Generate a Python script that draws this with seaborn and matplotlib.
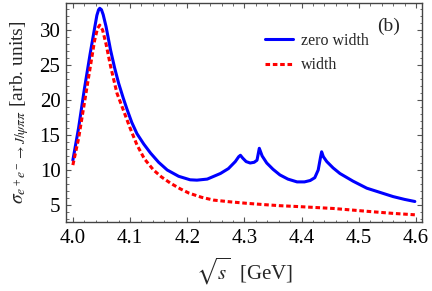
import numpy as np
import pandas as pd
import seaborn as sns
from matplotlib import pyplot as plt
from matplotlib.ticker import MultipleLocator

# zero width curve
x_zero = [4.000, 4.010, 4.020, 4.030, 4.037, 4.042, 4.045, 4.047, 4.050, 4.053,
          4.058, 4.066, 4.073, 4.080, 4.088, 4.095, 4.103, 4.112, 4.124, 4.136,
          4.150, 4.165, 4.185, 4.205, 4.217, 4.235, 4.258, 4.272, 4.284, 4.290,
          4.293, 4.297, 4.303, 4.310, 4.317, 4.322, 4.326, 4.331, 4.339, 4.350,
          4.362, 4.376, 4.392, 4.405, 4.415, 4.423, 4.429, 4.433, 4.435, 4.438,
          4.444, 4.455, 4.467, 4.490, 4.514, 4.537, 4.560, 4.580, 4.598]
y_zero = [11.4, 16.0, 21.5, 26.5, 29.8, 32.1, 32.9, 33.1, 32.9, 32.2,
          30.5, 27.1, 24.6, 22.4, 20.3, 18.6, 16.8, 15.2, 13.7, 12.4,
          11.1, 10.0, 9.1, 8.6, 8.55, 8.7, 9.5, 10.2, 11.2, 11.9,
          12.1, 11.7, 11.2, 11.0, 11.1, 11.4, 13.1, 12.0, 11.0, 10.1,
          9.3, 8.7, 8.3, 8.3, 8.5, 8.9, 10.0, 11.8, 12.6, 11.9,
          11.2, 10.3, 9.5, 8.4, 7.4, 6.8, 6.2, 5.8, 5.5]

# width curve
x_width = [4.000, 4.010, 4.020, 4.030, 4.038, 4.043, 4.047, 4.052, 4.058, 4.066,
           4.077, 4.089, 4.100, 4.112, 4.125, 4.141, 4.155, 4.171, 4.188, 4.203,
           4.225, 4.246, 4.275, 4.304, 4.335, 4.362, 4.400, 4.456, 4.514, 4.560,
           4.598]
y_width = [10.7, 14.5, 19.5, 24.5, 28.5, 30.2, 30.7, 30.0, 28.0, 24.8,
           21.0, 18.4, 16.0, 13.6, 11.6, 10.0, 9.0, 8.1, 7.3, 6.7,
           6.1, 5.7, 5.45, 5.24, 5.05, 4.9, 4.75, 4.5, 4.1, 3.8,
           3.6]

sns.set_style("ticks")
plt.rcParams['font.family'] = ['Liberation Serif', 'DejaVu Serif']
plt.rcParams['mathtext.fontset'] = 'stix'

df_zero = pd.DataFrame({'x': x_zero, 'y': y_zero})
df_width = pd.DataFrame({'x': x_width, 'y': y_width})

fig = plt.figure(figsize=(4.32, 2.91), dpi=100)
ax = fig.add_axes([66 / 432, 1 - 222 / 291, 356 / 432, 219 / 291])

sns.lineplot(data=df_zero, x='x', y='y', ax=ax, color='#0000ff', lw=2.2,
             label='zero width', sort=False)
sns.lineplot(data=df_width, x='x', y='y', ax=ax, color='#ff0000', lw=2.2,
             label='width', sort=False)
ax.lines[1].set_dashes((1.5, 0.9))

ax.set_xlim(3.988, 4.6105)
ax.set_ylim(2.57, 33.86)
ax.xaxis.set_major_locator(MultipleLocator(0.1))
ax.xaxis.set_minor_locator(MultipleLocator(0.02))
ax.yaxis.set_major_locator(MultipleLocator(5))
ax.yaxis.set_minor_locator(MultipleLocator(1))
ax.xaxis.set_major_formatter(plt.FuncFormatter(lambda v, p: f"{v:.1f}"))

for s in ax.spines.values():
    s.set_color('#444444')
    s.set_linewidth(1.0)
ax.tick_params(which='both', direction='in', top=True, right=True, color='#555555',
               labelsize=15, labelcolor='black')
ax.tick_params(which='major', length=3.5, width=0.8)
ax.tick_params(which='minor', length=1.8, width=0.6)
ax.tick_params(axis='x', pad=5)
ax.tick_params(axis='y', pad=4)

ax.set_xlabel(r'$\sqrt{s}$  [GeV]', fontsize=15, labelpad=6)
ax.set_ylabel(r'$\sigma_{e^+e^-\to J/\psi\pi\pi}$ [arb. units]', fontsize=14, labelpad=6)

ax.text(0.905, 0.895, '(b)', transform=ax.transAxes, ha='center', va='center', fontsize=14)

leg = ax.legend(loc='upper left', bbox_to_anchor=(0.52, 0.93), frameon=False,
                fontsize=11.5, handlelength=1.7, handletextpad=0.5, labelspacing=0.55)

fig.savefig('out.png', dpi=100)
